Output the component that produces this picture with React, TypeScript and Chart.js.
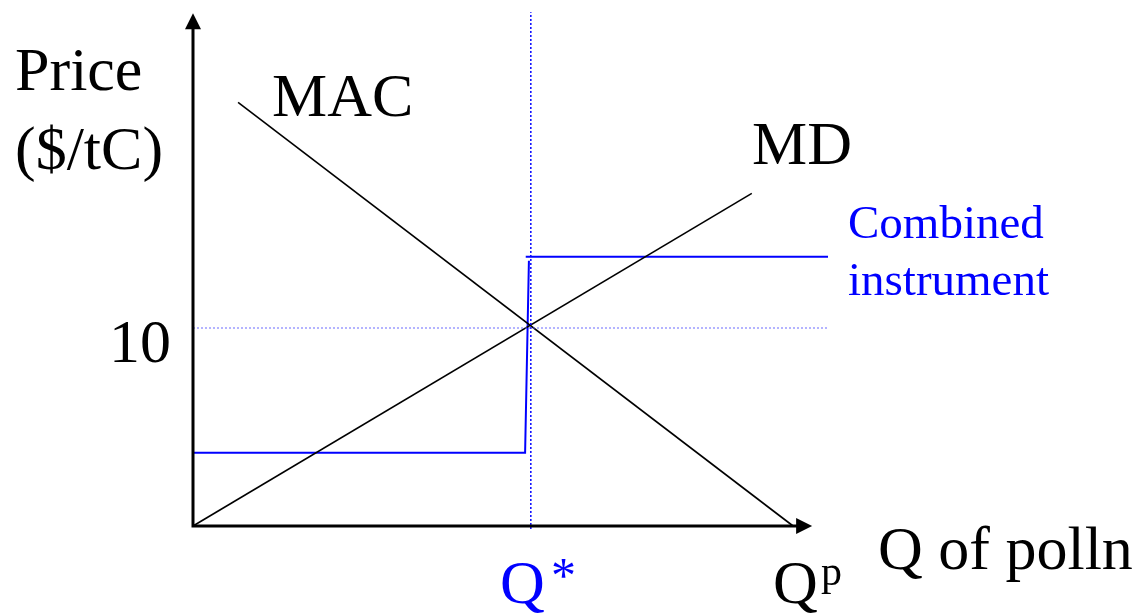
import React, { useEffect, useRef } from "react";
import { Chart, registerables } from "chart.js";

Chart.register(...registerables);

// ---- data (in chart units: quantity 0..100, price $/tC) ----
const xRange = [0, 100];
const yRange = [0, 26];
const axisEnd = { x: 97.5, y: 25.9 };
const qStar = 53.2;
const eqPrice = 10;
const macX = [7.1, 94.5];
const macY = [21.4, 0];
const mdX = [0, 88.0];
const mdY = [0, 16.8];
const combinedLowX = [0, 52.3, 52.9];
const combinedLowY = [3.7, 3.7, 13.4];
const combinedHighX = [52.4, 100];
const combinedHighY = [13.6, 13.6];
const yTickLabels = ["10"];

const BLUE = "#0000ff";
const SERIF = "'Liberation Serif', 'Times New Roman', serif";

const pts = (xs: number[], ys: number[]) => xs.map((x, i) => ({ x, y: ys[i] }));

const overlay = {
  id: "overlay",
  afterDatasetsDraw(chart: any) {
    const { ctx, scales } = chart;
    const xs = scales.x;
    const ys = scales.y;
    const ox = xs.getPixelForValue(0);
    const oy = ys.getPixelForValue(0);
    const ax = xs.getPixelForValue(axisEnd.x);
    const ay = ys.getPixelForValue(axisEnd.y);
    ctx.save();
    // axes
    ctx.strokeStyle = "#000";
    ctx.fillStyle = "#000";
    ctx.lineWidth = 3;
    ctx.lineCap = "butt";
    ctx.beginPath();
    ctx.moveTo(ox, oy + 1.5);
    ctx.lineTo(ox, ay + 10);
    ctx.moveTo(ox - 1.5, oy);
    ctx.lineTo(ax - 10, oy);
    ctx.stroke();
    // arrowheads
    ctx.beginPath();
    ctx.moveTo(ox, ay);
    ctx.lineTo(ox - 8, ay + 16);
    ctx.lineTo(ox + 8, ay + 16);
    ctx.closePath();
    ctx.fill();
    ctx.beginPath();
    ctx.moveTo(ax, oy);
    ctx.lineTo(ax - 16, oy - 8);
    ctx.lineTo(ax - 16, oy + 8);
    ctx.closePath();
    ctx.fill();

    // texts
    ctx.textBaseline = "alphabetic";
    ctx.textAlign = "left";
    ctx.fillStyle = "#000";
    ctx.font = `62px ${SERIF}`;
    ctx.fillText("Price", 15, 90);
    ctx.fillText("($/tC)", 15, 169);
    ctx.fillText("MAC", 272, 116);
    ctx.fillText("MD", 752, 164);
    ctx.fillText("Q of polln", 878, 569);
    // y tick label
    ctx.textAlign = "right";
    const ty = ys.getPixelForValue(eqPrice);
    ctx.fillText(yTickLabels[0], ox - 22, ty + 34);
    ctx.textAlign = "left";
    // Qp
    ctx.fillText("Q", 773, 603);
    ctx.font = `42px ${SERIF}`;
    ctx.fillText("p", 821, 585);
    // Q*
    ctx.fillStyle = BLUE;
    ctx.font = `62px ${SERIF}`;
    ctx.fillText("Q", 500, 603);
    ctx.font = `50px ${SERIF}`;
    ctx.fillText("*", 551, 592);
    // Combined instrument
    ctx.font = `47px ${SERIF}`;
    ctx.fillText("Combined", 848, 238);
    ctx.fillText("instrument", 848, 295);
    ctx.restore();
  },
};

export default function App() {
  const ref = useRef<HTMLCanvasElement | null>(null);
  useEffect(() => {
    if (!ref.current) return;
    const chart = new Chart(ref.current, {
      type: "scatter",
      data: {
        datasets: [
          {
            label: "eq price",
            data: pts([xRange[0], xRange[1]], [eqPrice, eqPrice]),
            showLine: true,
            borderColor: "rgba(90,90,255,0.75)",
            borderWidth: 1.2,
            borderDash: [2, 2],
            pointRadius: 0,
            clip: false,
          } as any,
          {
            label: "Q*",
            data: pts([qStar, qStar], [-0.15, yRange[1] - 0.05]),
            showLine: true,
            borderColor: BLUE,
            borderWidth: 1.5,
            borderDash: [2, 2],
            pointRadius: 0,
            clip: false,
          } as any,
          {
            label: "MAC",
            data: pts(macX, macY),
            showLine: true,
            borderColor: "#000",
            borderWidth: 1.6,
            pointRadius: 0,
            clip: false,
          } as any,
          {
            label: "MD",
            data: pts(mdX, mdY),
            showLine: true,
            borderColor: "#000",
            borderWidth: 1.6,
            pointRadius: 0,
            clip: false,
          } as any,
          {
            label: "Combined low",
            data: pts(combinedLowX, combinedLowY),
            showLine: true,
            borderColor: BLUE,
            borderWidth: 2,
            pointRadius: 0,
            clip: false,
          } as any,
          {
            label: "Combined high",
            data: pts(combinedHighX, combinedHighY),
            showLine: true,
            borderColor: BLUE,
            borderWidth: 2,
            pointRadius: 0,
            clip: false,
          } as any,
        ],
      },
      options: {
        animation: false,
        responsive: false,
        devicePixelRatio: 1,
        layout: { padding: { left: 193, right: 317, top: 11.2, bottom: 87 } },
        scales: {
          x: { type: "linear", min: xRange[0], max: xRange[1], display: false },
          y: { type: "linear", min: yRange[0], max: yRange[1], display: false },
        },
        plugins: {
          legend: { display: false },
          tooltip: { enabled: false },
          title: { display: false },
        },
      },
      plugins: [overlay],
    });
    return () => chart.destroy();
  }, []);
  return (
    <div style={{ position: "absolute", left: 0, top: 0, width: 1145, height: 613, background: "#fff" }}>
      <canvas ref={ref} width={1145} height={613} style={{ width: 1145, height: 613 }} />
    </div>
  );
}
